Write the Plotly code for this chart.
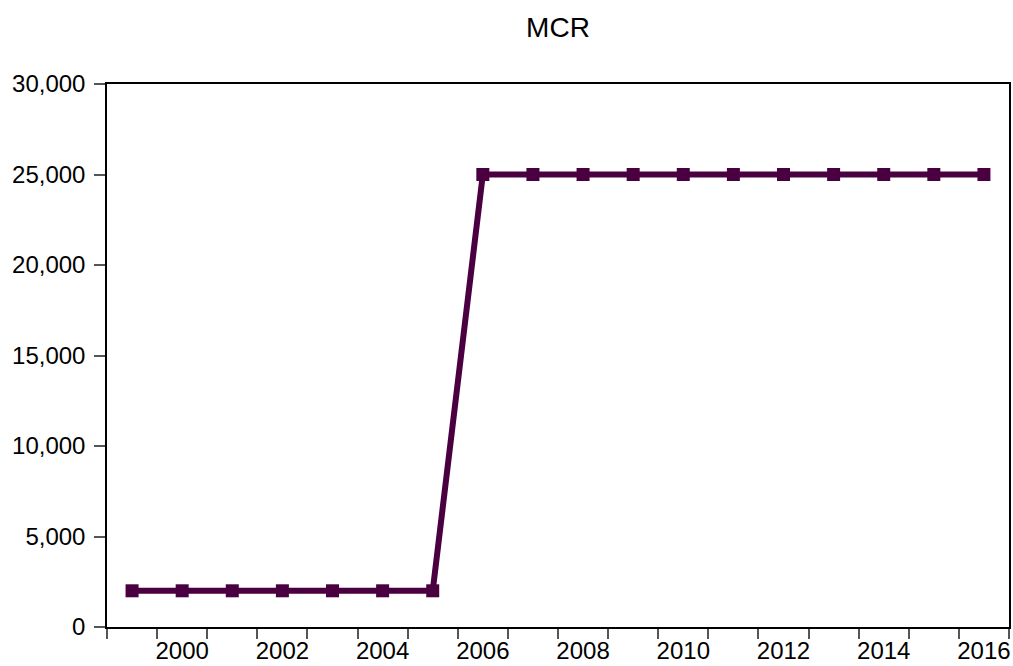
import plotly.graph_objects as go

years = list(range(1999, 2017))
mcr = [2000, 2000, 2000, 2000, 2000, 2000, 2000,
       25000, 25000, 25000, 25000, 25000, 25000, 25000, 25000, 25000, 25000, 25000]
x_labels = list(range(2000, 2017, 2))
y_ticks = [0, 5000, 10000, 15000, 20000, 25000, 30000]

color = "#4a0040"
font = dict(family="Liberation Sans, Arial, sans-serif", size=24, color="black")
title_font = dict(family="Liberation Sans, Arial, sans-serif", size=28, color="black")

W, H = 1013, 666

fig = go.Figure()
fig.add_trace(go.Scatter(
    x=years, y=mcr, mode="lines+markers",
    line=dict(color=color, width=6),
    marker=dict(symbol="square", size=13, color=color),
    showlegend=False,
))

fig.update_layout(
    width=W, height=H,
    margin=dict(l=107, r=4, t=84, b=39, autoexpand=False),
    paper_bgcolor="white", plot_bgcolor="white",
    font=font,
    title=dict(text="MCR", x=(107 + 1009) / 2 / W, xanchor="center",
               y=1 - 27 / H, yanchor="middle", font=title_font),
)
fig.update_xaxes(
    range=[1998.5, 2016.5],
    tickvals=x_labels, ticktext=[str(v) for v in x_labels],
    ticks="outside", ticklen=1, tickcolor="rgba(0,0,0,0)",
    showline=True, linecolor="black", linewidth=1.5, mirror=True,
    showgrid=False, zeroline=False, automargin=False,
    minor=dict(ticks="outside", ticklen=10, tickcolor="#555555", tickwidth=1.5,
               tick0=1998.5, dtick=1, showgrid=False),
    tickfont=font,
)
fig.update_yaxes(
    range=[0, 30000],
    tickvals=y_ticks, tickformat=",",
    ticks="outside", ticklen=11, tickcolor="#555555", tickwidth=1.5,
    ticklabelstandoff=4,
    showline=True, linecolor="black", linewidth=1.5, mirror=True,
    showgrid=False, zeroline=False, automargin=False,
    tickfont=font,
)

fig.write_html(
    "out.html",
    config={"displayModeBar": False},
    post_script="document.body.style.margin='0';document.body.style.overflow='hidden';",
)
